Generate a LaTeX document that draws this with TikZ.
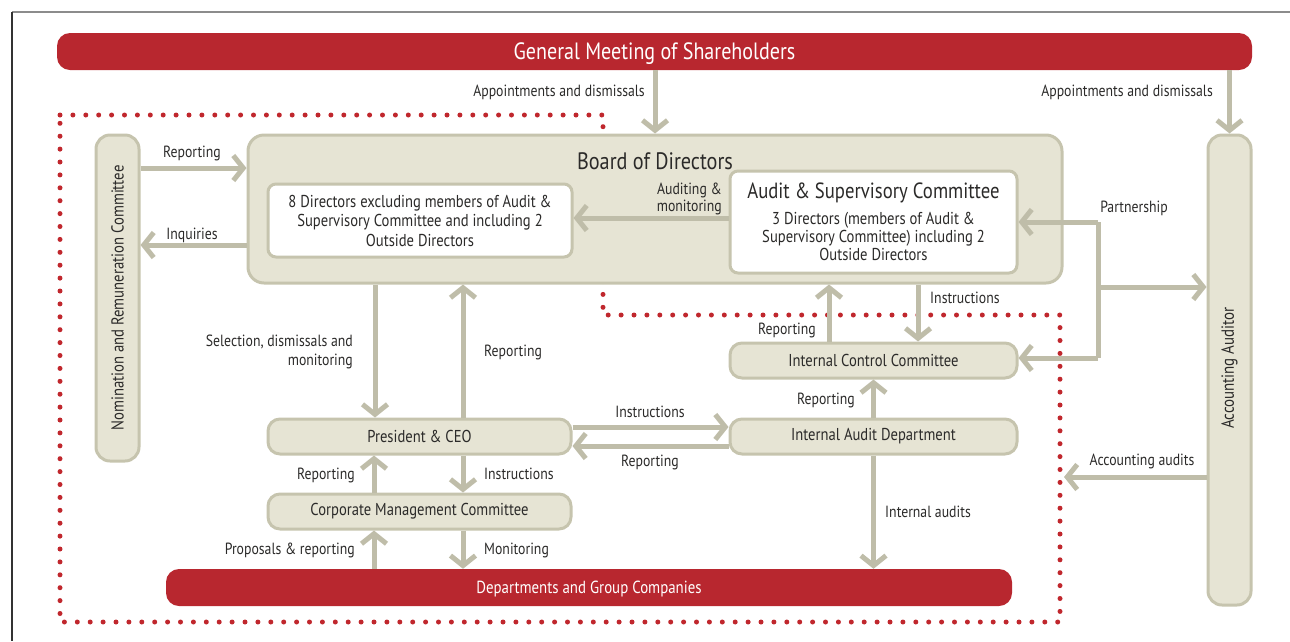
\documentclass[tikz,border=0pt]{standalone}
\usepackage{fontspec}
\setmainfont{PT Sans}[FakeStretch=0.85]
\usetikzlibrary{arrows.meta}
\definecolor{redbar}{HTML}{B8272F}
\definecolor{boxfill}{HTML}{E6E4D4}
\definecolor{boxline}{HTML}{C6C4AE}
\definecolor{arrgray}{HTML}{BFBDA9}
\definecolor{txt}{HTML}{2B2A29}
\definecolor{dotred}{HTML}{C0272D}
\newcommand{\fs}[1]{\fontsize{#1}{#1}\selectfont}
\tikzset{
  box/.style={draw=boxline, line width=3pt, fill=boxfill, rounded corners=12pt, text=txt, font=\fs{17.2}},
  wbox/.style={draw=boxline, line width=3pt, fill=white, rounded corners=8pt, text=txt, align=center},
  rbar/.style={fill=redbar, rounded corners=13pt, text=white, text depth=1pt},
  arr/.style={draw=arrgray, line width=5pt, -{Straight Barb[length=10pt,width=25pt]}},
  seg/.style={draw=arrgray, line width=5pt},
  lbl/.style={text=txt, font=\fs{16.2}, inner sep=0pt},
}
\begin{document}
\begin{tikzpicture}[x=1pt,y=-1pt]
\useasboundingbox (0,0) rectangle (1290,641);
% frame
\draw[color=gray!90, line width=1.2pt] (12,12) -- (1290,12);
\draw[color=black!80, line width=1.2pt] (12,12) -- (12,641);

% dotted region
\draw[dotred, line width=5pt, line cap=round, dash pattern=on 0pt off 12.9pt]
  (60,115) -- (603,115) -- (603,315) -- (1060,315) -- (1060,622) -- (60,622) -- cycle;

% nodes
\node[rbar, minimum width=1195pt, minimum height=37pt, font=\fs{23.6}] (gms) at (654.5,51.5) {General Meeting of Shareholders};
\node[box, rounded corners=16pt, minimum width=814pt, minimum height=148pt] (board) at (655,209) {};
\node[text=txt, font=\fs{23.8}, inner sep=0pt] (boardtitle) at (655,161) {Board of Directors};
\node[wbox, minimum width=304pt, minimum height=73pt, font=\fs{17.2}] (dir8) at (420,220.5)
  {8 Directors excluding members of Audit \&\\[2.3pt] Supervisory Committee and including 2\\[2.3pt] Outside Directors};
\node[wbox, minimum width=287pt, minimum height=102pt, font=\fs{17.2}, inner ysep=2pt] (audit) at (873.5,222)
  {{\fs{22}Audit \& Supervisory Committee}\\[8.5pt] 3 Directors (members of Audit \&\\[1.2pt] Supervisory Committee) including 2\\[1.2pt] Outside Directors};
\node[box, rounded corners=14pt, minimum width=43pt, minimum height=326pt, inner sep=0pt, font=\fs{17.3}] (nom) at (117.5,298)
  {\rotatebox{90}{Nomination and Remuneration Committee}};
\node[box, rounded corners=14pt, minimum width=43pt, minimum height=470pt, inner sep=0pt, font=\fs{17.6}] (acc) at (1229.5,370)
  {\rotatebox{90}{\hspace{4pt}Accounting Auditor}};
\node[box, minimum width=287pt, minimum height=35pt] (icc) at (873.5,360.5) {Internal Control Committee};
\node[box, minimum width=287pt, minimum height=35pt] (iad) at (873.5,436.5) {Internal Audit Department};
\node[box, minimum width=303pt, minimum height=35pt] (ceo) at (419.5,436.5) {President \& CEO};
\node[box, minimum width=303pt, minimum height=35pt] (cmc) at (419.5,511.5) {Corporate Management Committee};
\node[rbar, minimum width=846pt, minimum height=37pt, font=\fs{17.5}] (dept) at (589,587.5) {Departments and Group Companies};

% top arrows
\draw[arr] (board.north |- gms.south) -- (board.north);
\draw[arr] (acc.north |- gms.south) -- (acc.north);
\node[lbl, anchor=east] (l1) at (645,92) {Appointments and dismissals};
\node[lbl, anchor=east] (l2) at (1213,92) {Appointments and dismissals};

% nomination
\draw[arr] (nom.east |- 0,168) -- (board.west |- 0,168);
\draw[arr] (board.west |- 0,245) -- (nom.east |- 0,245);
\node[lbl] (l3) at (192,153) {Reporting};
\node[lbl] (l4) at (192,235) {Inquiries};

% audit -> directors
\draw[arr] (audit.west |- 0,218) -- (dir8.east |- 0,218);
\node[lbl, anchor=east, align=right] (l5) at (722,199) {Auditing \&\\[1pt] monitoring};

% partnership
\coordinate (pj) at (1098,287);
\draw[seg] (1098,222) -- (1098,358);
\draw[arr] (pj) -- (acc.west |- pj);
\draw[arr] (1098,222) -- (audit.east |- 0,222);
\draw[arr] (1098,358) -- (icc.east |- 0,358);
\node[lbl] (l6) at (1134,208) {Partnership};

% accounting audits
\coordinate (aa) at (1064,477);
\draw[arr] (acc.west |- aa) -- (aa);
\node[lbl] (l7) at (1142,461) {Accounting audits};

% board <-> ICC
\draw[arr] (icc.north -| 829,0) -- (board.south -| 829,0);
\draw[arr] (board.south -| 918,0) -- (icc.north -| 918,0);
\node[lbl, anchor=east] (l8) at (816,330) {Reporting};
\node[lbl, anchor=west] (l9) at (930,298) {Instructions};

% IAD
\draw[arr] (iad.north) -- (icc.south);
\node[lbl, anchor=east] (l10) at (855,400) {Reporting};
\draw[arr] (iad.south) -- (dept.north -| iad.south);
\node[lbl, anchor=west] (l11) at (885,512) {Internal audits};

% board <-> CEO
\draw[arr] (board.south -| 375,0) -- (ceo.north -| 375,0);
\draw[arr] (ceo.north -| 463,0) -- (board.south -| 463,0);
\node[lbl, anchor=east, align=right] (l12) at (353,352) {Selection, dismissals and\\[2pt] monitoring};
\node[lbl, anchor=west] (l13) at (484,352) {Reporting};

% CEO <-> IAD
\draw[arr] (ceo.east |- 0,427) -- (iad.west |- 0,427);
\draw[arr] (iad.west |- 0,446) -- (ceo.east |- 0,446);
\node[lbl] (l14) at (650,412) {Instructions};
\node[lbl] (l15) at (650,462) {Reporting};

% CEO <-> CMC
\draw[arr] (cmc.north -| 374,0) -- (ceo.south -| 374,0);
\draw[arr] (ceo.south -| 463,0) -- (cmc.north -| 463,0);
\node[lbl, anchor=east] (l16) at (355,475) {Reporting};
\node[lbl, anchor=west] (l17) at (484,474) {Instructions};

% CMC <-> Dept
\draw[arr] (dept.north -| 374,0) -- (cmc.south -| 374,0);
\draw[arr] (cmc.south -| 463,0) -- (dept.north -| 463,0);
\node[lbl, anchor=east] (l18) at (355,550) {Proposals \& reporting};
\node[lbl, anchor=west] (l19) at (484,550) {Monitoring};
\end{tikzpicture}
\end{document}
